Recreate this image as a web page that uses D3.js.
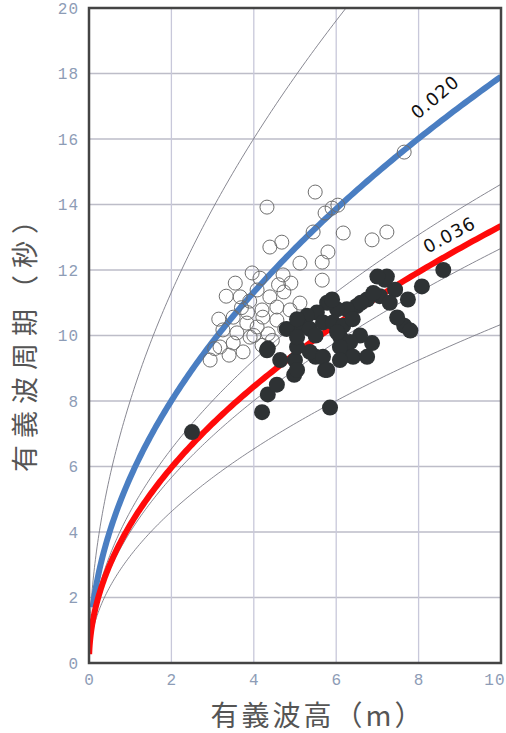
<!DOCTYPE html>
<html>
<head>
<meta charset="utf-8">
<script src="https://cdn.jsdelivr.net/npm/d3@7"></script>
<style>
  html, body { margin: 0; padding: 0; background: #fff; }
  svg { display: block; }
</style>
</head>
<body>
<svg id="chart" width="506" height="733"></svg>
<script>
// axis ticks
const xTicks = [0, 2, 4, 6, 8, 10];
const yTicks = [0, 2, 4, 6, 8, 10, 12, 14, 16, 18, 20];

// wave steepness curves (H/L): thin reference curves and the two highlighted ones
const thinSteepness = [0.01, 0.03, 0.04, 0.06];
const blueSteepness = 0.020;
const redSteepness = 0.036;

// open circles: [wave height m, period s]
const openPoints = [
  [4.32, 13.92], [5.49, 14.38], [6.04, 13.98], [7.65, 15.60], [5.90, 13.89],
  [6.17, 13.13], [5.44, 13.16], [6.87, 12.92], [7.23, 13.16], [4.39, 12.70],
  [4.68, 12.85], [5.80, 12.55], [5.12, 12.21], [5.66, 12.24], [3.96, 11.91],
  [4.71, 11.85], [5.66, 11.69], [3.67, 11.18], [4.08, 11.39], [4.39, 11.18],
  [4.56, 10.87], [4.20, 10.78], [3.50, 10.56], [3.83, 10.38], [3.25, 10.17],
  [3.59, 10.08], [4.08, 10.26], [3.18, 9.65], [3.50, 9.77], [3.91, 9.95],
  [2.94, 9.25], [4.22, 10.56], [4.56, 10.47], [4.88, 10.78], [5.12, 10.99],
  [5.73, 13.74], [3.33, 11.20], [3.74, 9.50], [4.20, 9.70], [4.73, 11.33],
  [3.05, 9.60], [3.40, 9.40], [3.85, 10.70], [4.00, 10.00], [4.35, 10.05],
  [3.90, 11.05], [4.60, 11.55], [3.15, 10.50], [4.90, 11.60], [3.70, 10.85],
  [4.45, 9.85], [3.55, 11.60], [4.15, 11.75], [4.75, 10.20]
];

// filled circles: [wave height m, period s]
const filledPoints = [
  [2.50, 7.05], [4.20, 7.66], [4.34, 8.20], [4.56, 8.50], [4.98, 8.80],
  [5.85, 7.80], [4.34, 9.60], [4.64, 9.25], [5.00, 9.25], [5.50, 9.35],
  [5.73, 8.95], [6.21, 9.40], [6.10, 9.95], [6.87, 9.77], [6.58, 10.00],
  [7.65, 10.30], [7.80, 10.15], [7.74, 11.10], [8.08, 11.50], [8.60, 12.00],
  [7.18, 11.70], [7.43, 11.40], [7.06, 11.20], [7.23, 11.80], [7.00, 11.80],
  [6.75, 11.10], [6.50, 10.90], [6.26, 10.80], [6.02, 10.80], [5.78, 11.00],
  [5.53, 10.70], [5.29, 10.60], [5.12, 10.30], [5.36, 10.20], [5.68, 10.40],
  [5.92, 10.40], [6.17, 10.30], [6.34, 9.80], [6.09, 9.65], [6.02, 10.10],
  [5.36, 9.50], [5.68, 9.35], [5.05, 9.65], [6.41, 9.35], [6.75, 9.35],
  [6.09, 9.25], [7.48, 10.55], [5.05, 8.95], [5.78, 8.95], [4.80, 10.20],
  [5.05, 10.50], [5.05, 9.95], [4.32, 9.55], [6.60, 11.00], [6.90, 11.30],
  [5.90, 11.10], [7.30, 11.00], [6.40, 10.50], [5.50, 10.00]
];

const svg = d3.select('#chart');
const plotL = 89, plotR = 501, plotT = 8, plotB = 663;

const x = d3.scaleLinear().domain([0, 10]).range([plotL, plotR]);
const y = d3.scaleLinear().domain([0, 20]).range([plotB, plotT]);

svg.append('defs').append('clipPath').attr('id', 'plot')
  .append('rect').attr('x', plotL).attr('y', plotT)
  .attr('width', plotR - plotL).attr('height', plotB - plotT);

// grid
const grid = svg.append('g');
grid.selectAll('.h').data(yTicks.slice(1, -1)).join('line')
  .attr('x1', plotL).attr('x2', plotR)
  .attr('y1', d => y(d)).attr('y2', d => y(d))
  .attr('stroke', '#bdbdc8').attr('stroke-width', 1.5);
grid.selectAll('.v').data(xTicks.slice(1, -1)).join('line')
  .attr('x1', d => x(d)).attr('x2', d => x(d))
  .attr('y1', plotT).attr('y2', plotB)
  .attr('stroke', '#c8c8da').attr('stroke-width', 1.3);

// T = sqrt(2*pi*H / (g*s)), deep-water wavelength relation
function steepCurve(s, h0) {
  const hs = d3.range(0, 201).map(i => h0 + (10 - h0) * Math.pow(i / 200, 2));
  return hs.map(h => [h, Math.sqrt(2 * Math.PI * h / (9.8 * s))]);
}
const line = d3.line().x(d => x(d[0])).y(d => y(d[1]));

const curves = svg.append('g').attr('clip-path', 'url(#plot)');
curves.selectAll('.thin').data(thinSteepness).join('path')
  .attr('d', s => line(steepCurve(s, 0)))
  .attr('fill', 'none').attr('stroke', '#7a7a86').attr('stroke-width', 0.9);

curves.append('path')
  .attr('d', line(steepCurve(blueSteepness, 0.09)))
  .attr('fill', 'none').attr('stroke', '#4a7ec2').attr('stroke-width', 6);
curves.append('path')
  .attr('d', line(steepCurve(redSteepness, 0.004)))
  .attr('fill', 'none').attr('stroke', '#ff0a0a').attr('stroke-width', 6);

// points
svg.append('g').selectAll('circle').data(openPoints).join('circle')
  .attr('cx', d => x(d[0])).attr('cy', d => y(d[1])).attr('r', 7)
  .attr('fill', 'none').attr('stroke', '#6e6e6e').attr('stroke-width', 1);
svg.append('g').selectAll('circle').data(filledPoints).join('circle')
  .attr('cx', d => x(d[0])).attr('cy', d => y(d[1])).attr('r', 8)
  .attr('fill', '#2e3234');

// curve labels
svg.append('text')
  .attr('transform', 'translate(436,98) rotate(-40)')
  .attr('text-anchor', 'middle').attr('dominant-baseline', 'middle')
  .attr('font-family', 'DejaVu Sans, sans-serif').attr('font-size', 18)
  .attr('letter-spacing', 1).attr('fill', '#111').text('0.020');
svg.append('text')
  .attr('transform', 'translate(450,236) rotate(-28)')
  .attr('text-anchor', 'middle').attr('dominant-baseline', 'middle')
  .attr('font-family', 'DejaVu Sans, sans-serif').attr('font-size', 18)
  .attr('letter-spacing', 1).attr('fill', '#111').text('0.036');

// frame
svg.append('rect')
  .attr('x', plotL).attr('y', plotT).attr('width', plotR - plotL).attr('height', plotB - plotT)
  .attr('fill', 'none').attr('stroke', '#444').attr('stroke-width', 2.5);

// axes
const tickFont = 'Liberation Mono, DejaVu Sans Mono, monospace';
const yAxis = svg.append('g').attr('transform', `translate(${plotL},0)`)
  .call(d3.axisLeft(y).tickValues(yTicks).tickSize(0).tickPadding(10));
const xAxis = svg.append('g').attr('transform', `translate(0,${plotB})`)
  .call(d3.axisBottom(x).tickValues(xTicks).tickSize(0).tickPadding(11));
[xAxis, yAxis].forEach(a => {
  a.select('.domain').remove();
  a.selectAll('text').attr('font-family', tickFont).attr('font-size', 16)
    .attr('letter-spacing', 1).attr('fill', '#8d9cb6');
});
// keep the last x label inside the picture
xAxis.selectAll('.tick').filter(d => d === 10).select('text')
  .attr('text-anchor', 'end').attr('x', 4);

// axis titles
svg.append('text')
  .attr('x', 318).attr('y', 726).attr('text-anchor', 'middle')
  .attr('font-family', 'Noto Sans CJK JP').attr('font-size', 28)
  .attr('letter-spacing', 3).attr('fill', '#555').text('有義波高（m）');
svg.append('text')
  .attr('transform', 'translate(35,336) rotate(-90)').attr('text-anchor', 'middle')
  .attr('font-family', 'Noto Sans CJK JP').attr('font-size', 27)
  .attr('letter-spacing', 7).attr('fill', '#555').text('有義波周期（秒）');
</script>
</body>
</html>
